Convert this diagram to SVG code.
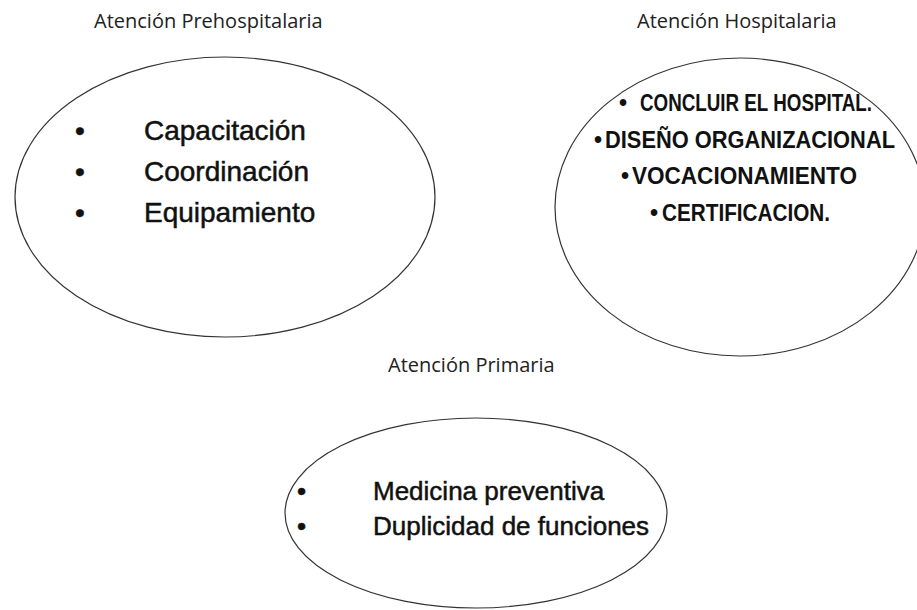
<svg xmlns="http://www.w3.org/2000/svg" width="917" height="610" viewBox="0 0 917 610">
<style>
.bg{fill:#ffffff}
.ell{fill:none;stroke:#333333;stroke-width:1.2}
.title{font-family:"Open Sans","Liberation Sans",sans-serif;font-size:20px;fill:#222222}
.item{font-family:"Liberation Sans",Arial,sans-serif;font-size:28px;fill:#111111;stroke:#111111;stroke-width:0.5}
.item3{font-family:"Liberation Sans",Arial,sans-serif;font-size:26px;fill:#111111;stroke:#111111;stroke-width:0.5}
.hosp{font-family:"Liberation Sans",Arial,sans-serif;font-size:23px;font-weight:bold;fill:#111111}
</style>
<rect class="bg" x="0" y="0" width="917" height="610"/>
<g id="prehospitalaria">
  <text class="title" x="94" y="28">Atención Prehospitalaria</text>
  <ellipse class="ell" cx="225" cy="197" rx="210" ry="140"/>
  <text class="item" x="75" y="140">•</text>
  <text class="item" x="144" y="140">Capacitación</text>
  <text class="item" x="75" y="181">•</text>
  <text class="item" x="144" y="181">Coordinación</text>
  <text class="item" x="75" y="222">•</text>
  <text class="item" x="144" y="222">Equipamiento</text>
</g>
<g id="hospitalaria">
  <text class="title" x="637" y="28">Atención Hospitalaria</text>
  <ellipse class="ell" cx="740" cy="207" rx="185" ry="149"/>
  <text class="hosp" x="619" y="111">•</text>
  <text class="hosp" x="640" y="111" textLength="232" lengthAdjust="spacingAndGlyphs">CONCLUIR EL HOSPITAL.</text>
  <text class="hosp" x="594" y="148">•</text>
  <text class="hosp" x="605" y="148" textLength="290" lengthAdjust="spacingAndGlyphs">DISEÑO ORGANIZACIONAL</text>
  <text class="hosp" x="621" y="184">•</text>
  <text class="hosp" x="632" y="184" textLength="225" lengthAdjust="spacingAndGlyphs">VOCACIONAMIENTO</text>
  <text class="hosp" x="650" y="221">•</text>
  <text class="hosp" x="662" y="221" textLength="168" lengthAdjust="spacingAndGlyphs">CERTIFICACION.</text>
</g>
<g id="primaria">
  <text class="title" x="388" y="372">Atención Primaria</text>
  <ellipse class="ell" cx="476" cy="513" rx="191" ry="95"/>
  <text class="item3" x="297" y="500">•</text>
  <text class="item3" x="373" y="500">Medicina preventiva</text>
  <text class="item3" x="297" y="535">•</text>
  <text class="item3" x="373" y="535">Duplicidad de funciones</text>
</g>
<g id="connectors"></g>
</svg>
